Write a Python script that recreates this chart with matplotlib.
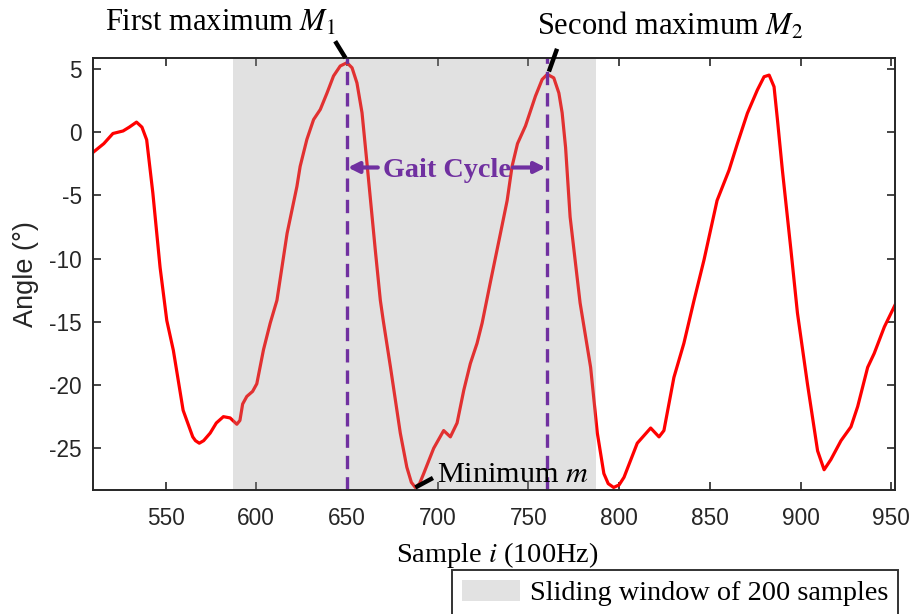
"""
Gait cycle detection figure: knee angle trace with the sliding window,
the two maxima and the minimum marked.
"""
import matplotlib

matplotlib.use("Agg")
import matplotlib.pyplot as plt  # noqa: E402
from matplotlib.patches import Patch  # noqa: E402

# ---- data ----
sample = [510, 516, 521, 526.6, 530, 534, 537, 539.6, 543, 547, 550.7, 554.3,
          559.7, 565, 566.5, 568.6, 571, 574.6, 578, 581.9, 585.6, 589.3, 591,
          592.5, 594.8, 598, 600.3, 604, 607.7, 611.4, 617, 622.4, 624.2, 627.9,
          631.6, 635.3, 639, 642.6, 646.3, 650, 652.8, 655.5, 658.3, 661, 665.6,
          668.4, 670, 674, 679.4, 683, 685.5, 687.7, 690, 692.3, 697.8, 703.3,
          707, 710.7, 714.4, 718, 721.7, 724.5, 729, 734.6, 738.3, 741, 744,
          748.4, 753.9, 757.6, 760.4, 764, 766.8, 768.6, 770.5, 773, 778.5,
          784.3, 788, 791.6, 794, 797, 800, 802.7, 810, 817.4, 822, 824.7, 830.2,
          835.7, 841.3, 846.8, 854, 860.6, 865.2, 870.7, 876.2, 879.9, 882.7,
          885.4, 887.3, 890, 894.7, 898.3, 903.8, 909.4, 913, 916.7, 922.3, 927.8,
          931.5, 937, 940.6, 946.2, 953]
angle = [-1.6, -0.9, -0.1, 0.1, 0.4, 0.8, 0.4, -0.6, -4.8, -10.7, -14.9, -17.25,
         -22.0, -24.1, -24.4, -24.6, -24.4, -23.8, -23.0, -22.5, -22.6, -23.1, -22.8,
         -21.5, -20.9, -20.5, -19.9, -17.2, -15.1, -13.3, -8.0, -4.3, -2.7, -0.57,
         1.0, 1.8, 3.1, 4.45, 5.24, 5.5, 5.1, 3.9, 1.54, -2.4, -9.3,
         -13.3, -14.9, -18.6, -23.8, -26.5, -27.7, -28.1, -27.8, -27.0, -25.0, -23.6,
         -24.1, -23.0, -20.4, -18.3, -16.7, -15.1, -11.9, -8.0, -5.4, -2.7, -0.9,
         0.5, 2.86, 4.18, 4.58, 4.3, 3.1, 1.54, -1.2, -6.7, -13.5,
         -18.6, -23.8, -27.0, -27.8, -28.1, -27.9, -27.3, -24.6, -23.4, -24.1, -23.6,
         -19.4, -16.7, -13.3, -10.1, -5.4, -3.0, -0.9, 1.5, 3.34, 4.39, 4.52,
         3.6, 0.96, -3.0, -9.3, -14.3, -19.9, -25.2, -26.7, -25.9, -24.4, -23.3,
         -21.7, -18.6, -17.5, -15.4, -13.4]

window = (587, 787)          # sliding window of 200 samples
maxima = [650, 760]          # M1, M2 positions
minimum = (687.7, -28.1)

SERIF = ["Liberation Serif", "DejaVu Serif"]
SANS = ["Liberation Sans", "DejaVu Sans"]
PURPLE = "#7030a0"
INK = "#262626"

plt.rcParams["mathtext.fontset"] = "stix"
plt.rcParams["axes.unicode_minus"] = False

fig = plt.figure(figsize=(9.15, 6.14), dpi=100)
ax = fig.add_axes([0.1016, 0.202, 0.8764, 0.7035])

ax.plot(sample, angle, color="red", lw=2.3, zorder=2)
ax.axvspan(*window, color="#a1a1a1", alpha=0.31, lw=0, zorder=3)

ymin, ymax = -28.3, 5.87
for m in maxima:
    ax.plot([m, m], [ymin, ymax], color=PURPLE, lw=2.4,
            linestyle=(0, (4.0, 2.4)), zorder=4, clip_on=False)

ax.set_xlim(510, 952)
ax.set_ylim(ymin, ymax)
ax.set_xticks(range(550, 951, 50))
ax.set_yticks(range(-25, 6, 5))
ax.tick_params(direction="in", length=6, width=1.2, top=True, right=True,
               labelsize=16.3, labelcolor=INK, color=INK)
ax.tick_params(axis="x", pad=12)
ax.tick_params(axis="y", pad=8)
for lab in ax.get_xticklabels() + ax.get_yticklabels():
    lab.set_family(SANS)
for sp in ax.spines.values():
    sp.set_linewidth(1.4)
    sp.set_color(INK)
    sp.set_zorder(5)

# axis labels placed in figure coords to match the reference
fig.text(0.543, 0.085, "Sample $i$ (100Hz)", family=SERIF, fontsize=20.4,
         ha="center", va="baseline")
fig.text(0.0284, 0.553, "Angle (°)", family=SANS, fontsize=19.5, color=INK,
         rotation=90, ha="center", va="center")

# ---- annotations ----
ax.text(516.6, 8.0, "First maximum $M_{\\mathit{1}}$", family=SERIF,
        fontsize=22, ha="left", va="baseline", clip_on=False)
ax.plot([643.5, 649.2], [7.2, 5.87], color="black", lw=3.2, clip_on=False,
        solid_capstyle="butt", zorder=6)
ax.text(755, 7.69, "Second maximum $M_2$", family=SERIF, fontsize=22,
        ha="left", va="baseline", clip_on=False)
ax.plot([765.8, 761.3], [6.6, 4.8], color="black", lw=3.2, clip_on=False,
        solid_capstyle="butt", zorder=6)
ax.text(699.8, -27.67, "Minimum $m$", family=SERIF, fontsize=21.8,
        ha="left", va="baseline", zorder=6)
ax.plot([minimum[0], 697.4], [minimum[1], -27.35], color="black", lw=3.2,
        solid_capstyle="butt", zorder=6)

ax.text(670, -3.53, "Gait Cycle", family=SERIF, fontsize=20.3, weight="bold",
        color=PURPLE, ha="left", va="baseline", zorder=6)
arrow = dict(arrowstyle="-|>", color=PURPLE, lw=3, mutation_scale=16,
             shrinkA=0, shrinkB=0)
ax.annotate("", xy=(maxima[0] + 0.5, -2.79), xytext=(667, -2.79),
            arrowprops=arrow, zorder=6)
ax.annotate("", xy=(maxima[1] - 0.5, -2.79), xytext=(741.5, -2.79),
            arrowprops=arrow, zorder=6)

handle = Patch(facecolor="#e2e2e2", edgecolor="none")
leg = fig.legend([handle], ["Sliding window of 200 samples"],
                 loc="upper left", bbox_to_anchor=(0.494, 0.0717),
                 borderaxespad=0, prop={"family": SERIF, "size": 20.3},
                 frameon=True, fancybox=False, edgecolor="black",
                 handlelength=2.06, handleheight=0.8, borderpad=0.35,
                 handletextpad=0.35)
leg.get_frame().set_linewidth(1.4)

fig.savefig("out.png", dpi=100)
